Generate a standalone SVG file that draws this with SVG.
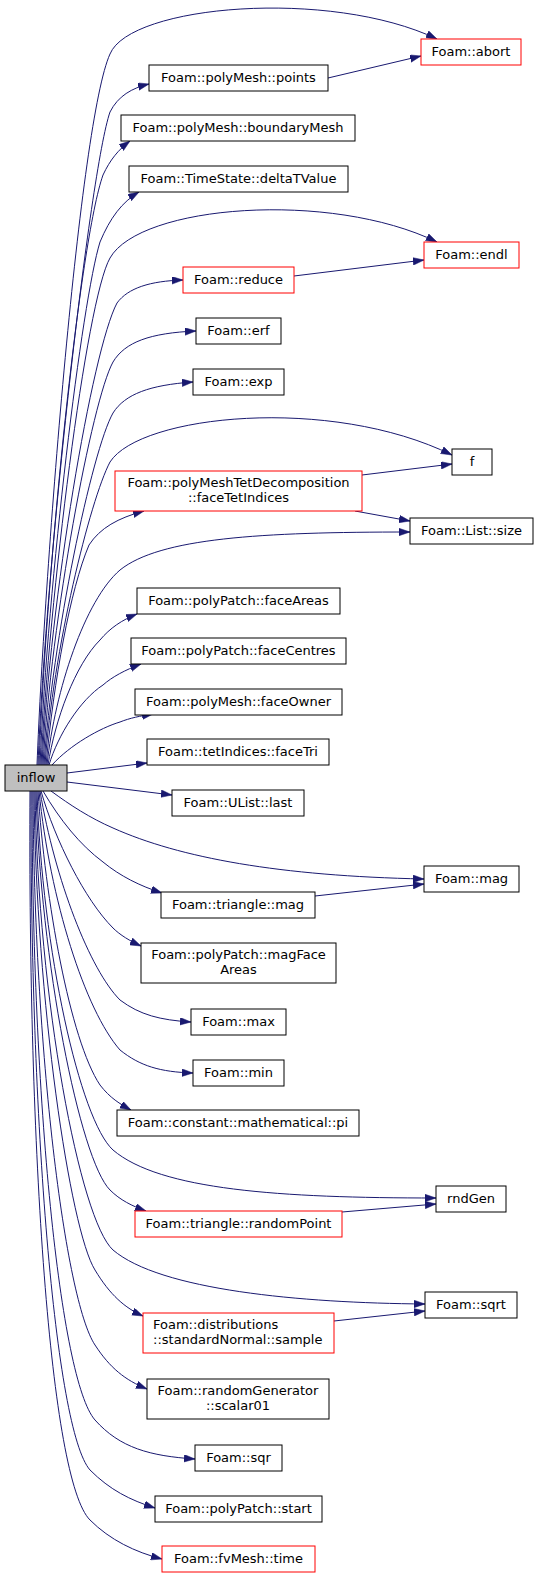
<svg xmlns="http://www.w3.org/2000/svg" width="537" height="1578" viewBox="0 0 537 1578">
<style>
.n rect{fill:#fff;stroke:#000;stroke-width:1}
.n.r rect{stroke:#ff0000}
.n.g rect{fill:#bfbfbf}
text{font-family:"DejaVu Sans","Liberation Sans",sans-serif;font-size:13px;fill:#000;text-anchor:middle}
text.l{text-anchor:start}
.e path{fill:none;stroke:#191970;stroke-width:1;marker-end:url(#ah)}
</style>
<defs>
<marker id="ah" markerUnits="userSpaceOnUse" markerWidth="11" markerHeight="8" refX="11" refY="3.75" orient="auto">
<path d="M0,0 L11,3.75 L0,7.5 z" fill="#191970" stroke="#191970" stroke-width="0.5"/>
</marker>
</defs>
<rect width="537" height="1578" fill="#fff"/>
<g id="edges" class="e">
<path d="M37,765 C45,560 80,120 110,54 C130,5 330,-12 437,39"/>
<path d="M328,78 L421,56"/>
<path d="M38,765 C46,560 90,170 110,112 C118,96 132,88 149,84"/>
<path d="M39,765 C47,560 80,240 103,175 C110,160 118,150 130,141"/>
<path d="M40,765 C48,580 82,300 100,242 C110,218 122,202 139,192"/>
<path d="M41,765 C49,600 86,300 110,258 C140,205 330,190 437,242"/>
<path d="M294,276 L424,260"/>
<path d="M42,765 C50,600 92,350 117,303 C128,288 150,281 183,280"/>
<path d="M43,765 C51,620 92,400 113,362 C125,342 150,333 196,331"/>
<path d="M44,765 C52,640 92,450 113,413 C125,394 150,385 193,382"/>
<path d="M45,765 C53,650 90,500 110,462 C140,415 330,395 452,455"/>
<path d="M362,475 L452,464"/>
<path d="M355,511 L410,521"/>
<path d="M46,765 C54,680 70,590 89,545 C100,528 118,518 144,511"/>
<path d="M47,765 C55,690 85,600 120,570 C160,538 260,532 410,532"/>
<path d="M48,765 C55,720 75,665 100,640 C110,628 122,620 137,614"/>
<path d="M49,765 C58,735 80,700 103,685 C112,677 125,670 141,664"/>
<path d="M52,765 C70,745 100,728 120,722 C130,718 140,716 153,714"/>
<path d="M67,773 L147,763"/>
<path d="M67,782 L172,795"/>
<path d="M51,791 C70,805 90,818 113,828 C180,858 280,876 424,879"/>
<path d="M315,896 L424,884"/>
<path d="M43,791 C60,820 80,845 103,862 C120,876 140,886 162,893"/>
<path d="M41,791 C55,840 85,900 113,928 C120,935 130,941 141,946"/>
<path d="M40,791 C55,880 90,970 120,1000 C140,1015 160,1020 191,1022"/>
<path d="M39,791 C50,900 85,1010 120,1050 C140,1066 160,1072 193,1073"/>
<path d="M38,791 C45,900 70,1040 100,1085 C110,1098 120,1104 131,1110"/>
<path d="M37,791 C42,950 80,1120 113,1150 C160,1190 280,1198 436,1198"/>
<path d="M342,1212 L436,1204"/>
<path d="M36,791 C40,960 80,1160 110,1190 C120,1200 132,1206 146,1211"/>
<path d="M35,791 C38,1000 80,1220 113,1250 C160,1290 300,1303 425,1304"/>
<path d="M334,1321 L425,1311"/>
<path d="M34,791 C36,1000 70,1230 95,1270 C110,1295 125,1308 143,1316"/>
<path d="M33,791 C34,1050 65,1300 95,1345 C110,1368 125,1380 147,1389"/>
<path d="M32,791 C32,1100 60,1380 95,1420 C120,1448 150,1456 195,1459"/>
<path d="M31,791 C30,1120 55,1430 90,1470 C110,1490 130,1500 155,1508"/>
<path d="M30,791 C28,1150 50,1480 90,1520 C110,1540 135,1552 162,1559"/>
</g>
<g id="n_inflow" class="n g"><rect x="5" y="765" width="62" height="26"/><text x="36" y="782">inflow</text></g>
<g id="n_abort" class="n r"><rect x="421" y="39" width="100" height="26"/><text x="471" y="56">Foam::abort</text></g>
<g id="n_points" class="n"><rect x="149" y="65" width="179" height="26"/><text x="238.5" y="82">Foam::polyMesh::points</text></g>
<g id="n_boundaryMesh" class="n"><rect x="121" y="115" width="234" height="26"/><text x="238" y="132">Foam::polyMesh::boundaryMesh</text></g>
<g id="n_deltaTValue" class="n"><rect x="129" y="166" width="219" height="26"/><text x="238.5" y="183">Foam::TimeState::deltaTValue</text></g>
<g id="n_endl" class="n r"><rect x="424" y="242" width="95" height="26"/><text x="471.5" y="259">Foam::endl</text></g>
<g id="n_reduce" class="n r"><rect x="183" y="267" width="111" height="26"/><text x="238.5" y="284">Foam::reduce</text></g>
<g id="n_erf" class="n"><rect x="196" y="318" width="85" height="26"/><text x="238.5" y="335">Foam::erf</text></g>
<g id="n_exp" class="n"><rect x="193" y="369" width="91" height="26"/><text x="238.5" y="386">Foam::exp</text></g>
<g id="n_f" class="n"><rect x="452" y="449" width="40" height="26"/><text x="472" y="466">f</text></g>
<g id="n_faceTetIndices" class="n r"><rect x="115" y="471" width="247" height="40"/><text x="238.5" y="487">Foam::polyMeshTetDecomposition</text><text x="238.5" y="502">::faceTetIndices</text></g>
<g id="n_size" class="n"><rect x="410" y="518" width="123" height="26"/><text x="471.5" y="535">Foam::List::size</text></g>
<g id="n_faceAreas" class="n"><rect x="137" y="588" width="203" height="26"/><text x="238.5" y="605">Foam::polyPatch::faceAreas</text></g>
<g id="n_faceCentres" class="n"><rect x="131" y="638" width="215" height="26"/><text x="238.5" y="655">Foam::polyPatch::faceCentres</text></g>
<g id="n_faceOwner" class="n"><rect x="135" y="689" width="207" height="26"/><text x="238.5" y="706">Foam::polyMesh::faceOwner</text></g>
<g id="n_faceTri" class="n"><rect x="147" y="739" width="182" height="26"/><text x="238" y="756">Foam::tetIndices::faceTri</text></g>
<g id="n_last" class="n"><rect x="172" y="790" width="132" height="26"/><text x="238" y="807">Foam::UList::last</text></g>
<g id="n_mag" class="n"><rect x="424" y="866" width="95" height="26"/><text x="471.5" y="883">Foam::mag</text></g>
<g id="n_triMag" class="n"><rect x="161" y="892" width="154" height="26"/><text x="238" y="909">Foam::triangle::mag</text></g>
<g id="n_magFaceAreas" class="n"><rect x="141" y="943" width="195" height="40"/><text x="238.5" y="959">Foam::polyPatch::magFace</text><text x="238.5" y="974">Areas</text></g>
<g id="n_max" class="n"><rect x="191" y="1009" width="95" height="26"/><text x="238.5" y="1026">Foam::max</text></g>
<g id="n_min" class="n"><rect x="193" y="1060" width="91" height="26"/><text x="238.5" y="1077">Foam::min</text></g>
<g id="n_pi" class="n"><rect x="117" y="1110" width="242" height="26"/><text x="238" y="1127">Foam::constant::mathematical::pi</text></g>
<g id="n_rndGen" class="n"><rect x="436" y="1186" width="70" height="26"/><text x="471" y="1203">rndGen</text></g>
<g id="n_randomPoint" class="n r"><rect x="135" y="1211" width="207" height="26"/><text x="238.5" y="1228">Foam::triangle::randomPoint</text></g>
<g id="n_sqrt" class="n"><rect x="425" y="1292" width="92" height="26"/><text x="471" y="1309">Foam::sqrt</text></g>
<g id="n_sample" class="n r"><rect x="143" y="1313" width="191" height="40"/><text class="l" x="153" y="1329">Foam::distributions</text><text class="l" x="153" y="1344">::standardNormal::sample</text></g>
<g id="n_scalar01" class="n"><rect x="147" y="1379" width="182" height="40"/><text x="238" y="1395">Foam::randomGenerator</text><text x="238" y="1410">::scalar01</text></g>
<g id="n_sqr" class="n"><rect x="195" y="1445" width="87" height="26"/><text x="238.5" y="1462">Foam::sqr</text></g>
<g id="n_start" class="n"><rect x="155" y="1496" width="167" height="26"/><text x="238.5" y="1513">Foam::polyPatch::start</text></g>
<g id="n_time" class="n r"><rect x="162" y="1546" width="153" height="26"/><text x="238.5" y="1563">Foam::fvMesh::time</text></g>
</svg>
